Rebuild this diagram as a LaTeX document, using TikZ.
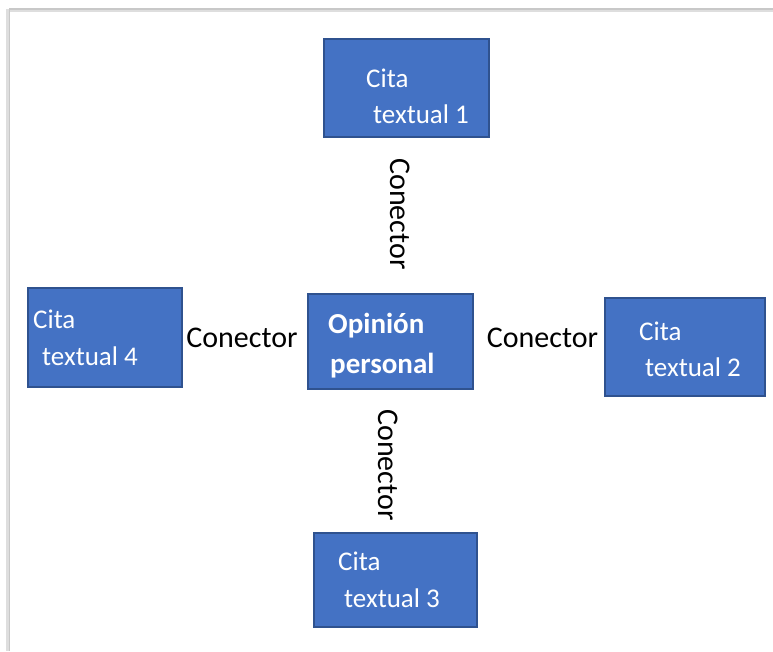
\documentclass[tikz,border=0pt]{standalone}
\usepackage{fontspec}
\setmainfont{Carlito}
\definecolor{boxfill}{HTML}{4472C4}
\definecolor{boxline}{HTML}{2F528F}
\definecolor{framegray}{HTML}{C8C8C8}
\tikzset{
  citebox/.style={draw=boxline, fill=boxfill, line width=2.5pt, rectangle, inner sep=0pt},
  boxtext/.style={text=white, font=\fontsize{27}{30}\selectfont, inner sep=0pt, anchor=base west},
  boldtext/.style={text=white, font=\fontsize{29}{32}\selectfont\bfseries, inner sep=0pt, anchor=base west},
  conntext/.style={text=black, font=\fontsize{30}{33}\selectfont, inner sep=0pt},
}
\begin{document}
\begin{tikzpicture}[x=1pt,y=-1pt]
\useasboundingbox (0,0) rectangle (773,651);
\fill[white] (0,0) rectangle (773,651);
% frame shadow
\draw[framegray!60, line width=4pt] (9,10) -- (773,10);
\draw[framegray, line width=1.5pt] (9,9) -- (773,9);
\draw[framegray!60, line width=4pt] (8,9) -- (8,651);
\draw[framegray, line width=1.5pt] (9.5,9) -- (9.5,651);

% boxes
\node[citebox, minimum width=165pt, minimum height=98pt] (c1) at (406.5,88) {};
\node[citebox, minimum width=165pt, minimum height=95pt] (op) at (390.5,341.5) {};
\node[citebox, minimum width=154pt, minimum height=99pt] (c4) at (105,337.5) {};
\node[citebox, minimum width=160pt, minimum height=98pt] (c2) at (685,347) {};
\node[citebox, minimum width=163pt, minimum height=94pt] (c3) at (395.5,580) {};

% box texts
\node[boxtext] (c1a) at (366,87) {Cita};
\node[boxtext] (c1b) at (373,123) {textual 1};
\node[boxtext] (c2a) at (639,340) {Cita};
\node[boxtext] (c2b) at (645,376) {textual 2};
\node[boxtext] (c3a) at (338,570) {Cita};
\node[boxtext] (c3b) at (344,607) {textual 3};
\node[boxtext] (c4a) at (33,328) {Cita};
\node[boxtext] (c4b) at (42,365) {textual 4};
\node[boldtext] (opa) at (328,333) {Opinión};
\node[boldtext] (opb) at (330,373) {personal};

% connector labels
\node[conntext, anchor=base] (kl) at (242,347) {Conector};
\node[conntext, anchor=base] (kr) at (542.5,347) {Conector};
\node[conntext, rotate=-90] (kt) at (400,214) {Conector};
\node[conntext, rotate=-90] (kb) at (388,465) {Conector};
\end{tikzpicture}
\end{document}
